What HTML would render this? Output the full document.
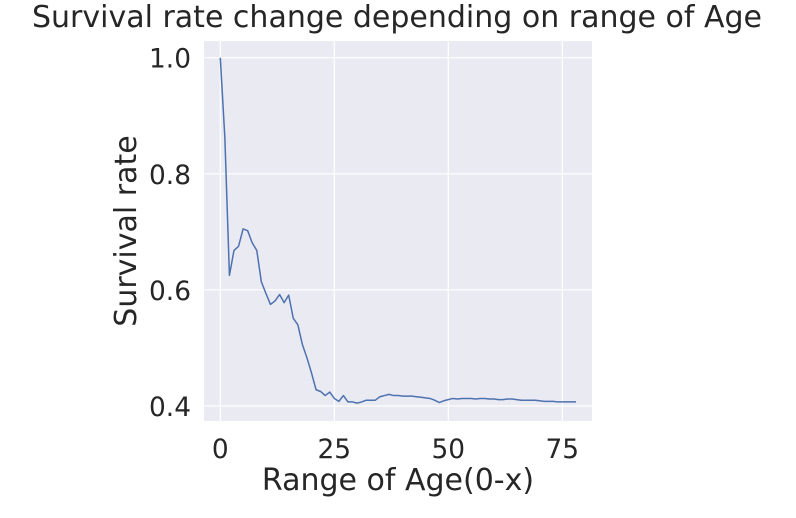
<!DOCTYPE html>
<html><head><meta charset="utf-8"><style>
body{margin:0;background:#fff;}
svg text{font-family:"DejaVu Sans","Liberation Sans",sans-serif;fill:#262626;}
</style></head><body>
<svg width="796" height="513" viewBox="0 0 796 513" xmlns="http://www.w3.org/2000/svg">
<rect x="204" y="41" width="388" height="380" fill="#eaeaf2"/>
<g id="grid"></g>
<g id="ticks"></g>
<polyline id="line" fill="none" stroke="#4c72b0" stroke-width="1.5" stroke-linejoin="round"/>
<text x="397" y="27" font-size="30" text-anchor="middle">Survival rate change depending on range of Age</text>
<text x="398" y="490" font-size="30" text-anchor="middle">Range of Age(0-x)</text>
<text transform="translate(136,231) rotate(-90)" font-size="30" text-anchor="middle">Survival rate</text>
</svg>
<script>
const ages = Array.from({length:79},(_,i)=>i);
const rates = [1.0,0.862,0.625,0.668,0.675,0.705,0.702,0.681,0.668,0.614,0.594,0.575,0.581,0.592,0.578,0.591,0.551,0.540,0.506,0.483,0.457,0.428,0.425,0.418,0.424,0.413,0.408,0.418,0.407,0.407,0.405,0.407,0.410,0.410,0.410,0.416,0.418,0.420,0.418,0.418,0.417,0.417,0.417,0.416,0.415,0.414,0.413,0.410,0.406,0.409,0.411,0.413,0.412,0.413,0.413,0.413,0.412,0.413,0.413,0.412,0.412,0.411,0.411,0.412,0.412,0.411,0.410,0.410,0.410,0.410,0.409,0.408,0.408,0.408,0.407,0.407,0.407,0.407,0.407];
const xTicks = [0,25,50,75];
const yTicks = [0.4,0.6,0.8,1.0];
const yTickLabels = ["0.4","0.6","0.8","1.0"];
const NS="http://www.w3.org/2000/svg";
const xs = v => 220.3 + v*4.56;
const ys = v => 406 - (v-0.4)/0.2*116.1;
const grid=document.getElementById('grid'), ticks=document.getElementById('ticks');
function mk(tag,attrs,parent){const e=document.createElementNS(NS,tag);for(const k in attrs)e.setAttribute(k,attrs[k]);parent.appendChild(e);return e;}
xTicks.forEach(t=>{
  const l=mk('line',{x1:xs(t),x2:xs(t),y1:41,y2:421,stroke:'#fff','stroke-width':1.2},grid);
  
  
  const tx=mk('text',{x:xs(t),y:458,'font-size':26.4,'text-anchor':'middle'},ticks);
  tx.textContent=t;
  
  
});
yTicks.forEach((t,i)=>{
  const l=mk('line',{x1:204,x2:592,y1:ys(t),y2:ys(t),stroke:'#fff','stroke-width':1.2},grid);
  
  
  const tx=mk('text',{x:191,y:ys(t)+10,'font-size':26.4,'text-anchor':'end'},ticks);
  tx.textContent=yTickLabels[i];
  
  
});
document.getElementById('line').setAttribute('points',ages.map((a,i)=>xs(a)+','+ys(rates[i])).join(' '));
</script>
</body></html>
